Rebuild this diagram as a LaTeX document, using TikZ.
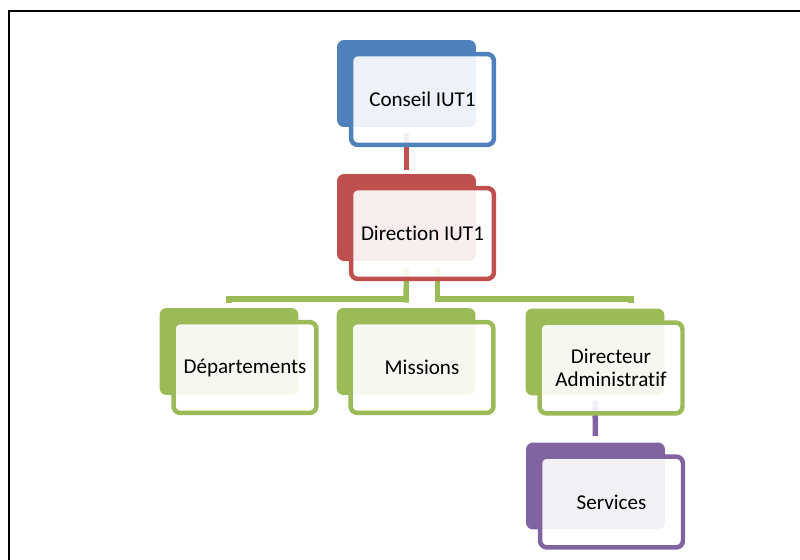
\documentclass[tikz,border=0pt]{standalone}
\usepackage{fontspec}
\setmainfont{Carlito}[Ligatures=NoCommon]
\usepackage{tikz}
\usepackage{xcolor}
\usetikzlibrary{calc,backgrounds}

\definecolor{orgblue}{HTML}{4F81BD}
\definecolor{orgred}{HTML}{C0504D}
\definecolor{orggreen}{HTML}{9BBB59}
\definecolor{orgpurple}{HTML}{8064A2}

\tikzset{
  backbox/.style={rectangle, rounded corners=0.14cm, fill=#1, inner sep=0pt,
    minimum width=2.78cm, minimum height=1.74cm},
  frontbox/.style={rectangle, rounded corners=0.14cm, draw=#1, line width=0.09cm,
    fill=white, fill opacity=0.9, text opacity=1, inner sep=0pt, align=center,
    minimum width=2.86cm, minimum height=1.82cm, font=\fontsize{12}{13.2}\selectfont},
  link/.style={draw=#1, line width=0.11cm},
}

\begin{document}
\begin{tikzpicture}[x=0.02cm,y=-0.02cm]
        \useasboundingbox (0,0) rectangle (800,560);
        \draw[line width=0.04cm] (800,11) -- (9,11) -- (9,560);

        \node[backbox=orgblue] (conseilB) at (406.5,83.5) {};
        \node[frontbox=orgblue] (conseil) at ($(conseilB)+(16,16)$) {Conseil IUT1};

        \node[backbox=orgred] (dirB) at (406.5,217.5) {};
        \node[frontbox=orgred] (dir) at ($(dirB)+(16,16)$) {Direction IUT1};

        \node[backbox=orggreen] (depB) at (229,351.5) {};
        \node[frontbox=orggreen] (dep) at ($(depB)+(16,16)$) {Départements};

        \node[backbox=orggreen] (misB) at (406,351.5) {};
        \node[frontbox=orggreen] (mis) at ($(misB)+(16,16)$) {Missions};

        \node[backbox=orggreen] (dadB) at (595,352) {};
        \node[frontbox=orggreen] (dad) at ($(dadB)+(16,16)$) {Directeur\\Administratif};

        \node[backbox=orgpurple] (servB) at (595.5,486) {};
        \node[frontbox=orgpurple] (serv) at ($(servB)+(16,16)$) {Services};

        \begin{pgfonlayer}{background}
        \draw[link=orgred, shorten <=0.12cm, shorten >=0.08cm] (conseilB.south) -- (dirB.north);

        \coordinate (bus) at (0,299);
        \coordinate (dirL) at ($(dirB.south)+(0,7)$);
        \coordinate (dirR) at ($(dirB.south)+(31,7)$);
        \coordinate (dadT) at ($(dadB.north)+(36,0)$);
        \draw[link=orggreen, shorten >=0.1cm] (dirL) -- (dirL |- bus) -- (depB.north |- bus) -- (depB.north);
        \draw[link=orggreen, shorten >=0.1cm] (dirL) -- (misB.north);
        \draw[link=orggreen, shorten >=0.1cm] (dirR) -- (dirR |- bus) -- (dadT |- bus) -- (dadT);

        \draw[link=orgpurple, shorten <=0.1cm, shorten >=0.12cm] (dadB.south) -- (servB.north);
        \end{pgfonlayer}
    \end{tikzpicture}
\end{document}
